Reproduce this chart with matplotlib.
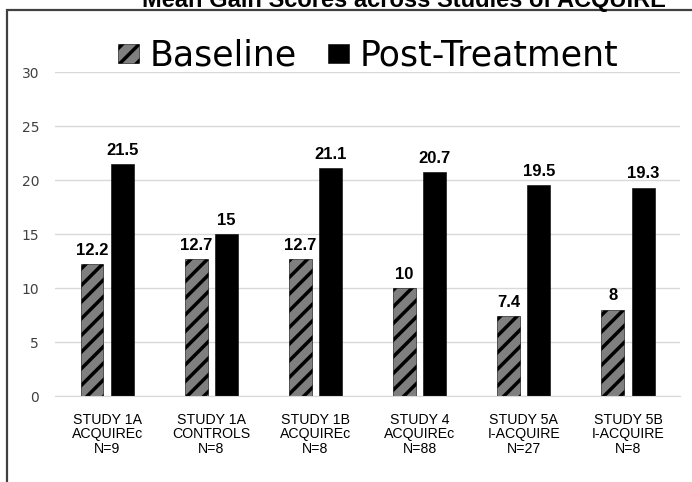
import matplotlib
matplotlib.use('Agg')
import matplotlib.pyplot as plt
import numpy as np
from matplotlib.patches import Rectangle

plt.rcParams['font.family'] = ['Liberation Sans', 'DejaVu Sans']
plt.rcParams['hatch.linewidth'] = 2.5

categories = ['STUDY 1A\nACQUIREc\nN=9', 'STUDY 1A\nCONTROLS\nN=8', 'STUDY 1B\nACQUIREc\nN=8',
              'STUDY 4\nACQUIREc\nN=88', 'STUDY 5A\nI-ACQUIRE\nN=27', 'STUDY 5B\nI-ACQUIRE\nN=8']
baseline = [12.2, 12.7, 12.7, 10, 7.4, 8]
post_treatment = [21.5, 15, 21.1, 20.7, 19.5, 19.3]
yticks = [0, 5, 10, 15, 20, 25, 30]

fig = plt.figure(figsize=(6.92, 4.82), dpi=100)
ax = fig.add_axes([0.0795, 0.1784, 0.9032, 0.6722])

x = np.arange(len(categories))
w = 0.22
off = 0.145
b1 = ax.bar(x - off, baseline, w, color='#7f7f7f', edgecolor='black', linewidth=0.4,
            hatch='//', label='Baseline')
b2 = ax.bar(x + off, post_treatment, w, color='black', edgecolor='black', linewidth=0.4,
            label='Post-Treatment')

# value labels above each bar
for bars, vals in ((b1, baseline), (b2, post_treatment)):
    for r, v in zip(bars, vals):
        ax.text(r.get_x() + r.get_width() / 2, v + 0.85, '{:g}'.format(v),
                ha='center', va='baseline', fontsize=12, fontweight='bold')

ax.set_xlim(-0.5, len(categories) - 0.5)
ax.set_ylim(0, 30)
ax.set_yticks(yticks)
ax.set_yticklabels([str(t) for t in yticks], family='DejaVu Sans')
ax.set_xticks(x)
ax.set_xticklabels(categories, fontsize=10.2, linespacing=1.05)
ax.tick_params(axis='both', length=0)
ax.tick_params(axis='y', pad=11.5, labelcolor='#404040', labelsize=10)
ax.tick_params(axis='x', pad=12)
ax.grid(axis='y', color='#d9d9d9', linewidth=1)
ax.set_axisbelow(True)
for s in ('top', 'right', 'left'):
    ax.spines[s].set_visible(False)
ax.spines['bottom'].set_color('#d9d9d9')

fig.legend(handles=[b1, b2], loc='center', bbox_to_anchor=(0.532, 0.884), ncol=2,
           frameon=False, prop={'family': 'DejaVu Sans', 'size': 25},
           handlelength=0.6, handleheight=0.45, handletextpad=0.3, columnspacing=0.9)

fig.add_artist(Rectangle((0.0101, -0.05), 1.1, 1.029, transform=fig.transFigure,
                         fill=False, edgecolor='#404040', linewidth=1.6))
fig.text(0.584, 0.9855, 'Mean Gain Scores across Studies of ACQUIRE', ha='center',
         va='baseline', fontsize=17, fontweight='bold')

fig.savefig('out.png', dpi=100)
